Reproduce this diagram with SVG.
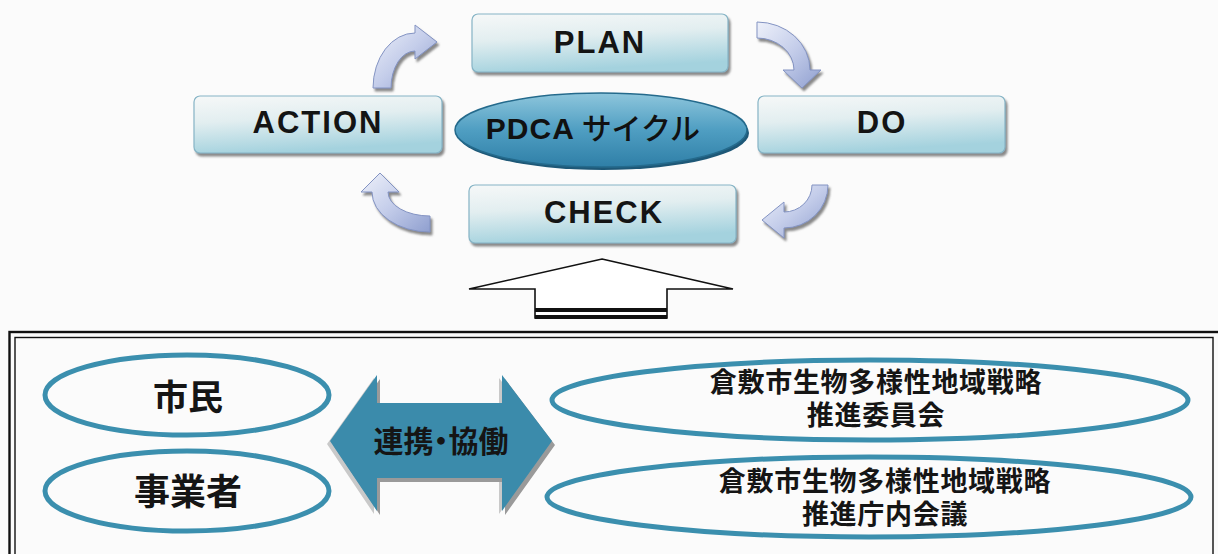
<svg xmlns="http://www.w3.org/2000/svg" width="1218" height="554" viewBox="0 0 1218 554">
<defs>
<linearGradient id="boxg" x1="0" y1="0" x2="0.25" y2="1">
<stop offset="0" stop-color="#f6f8f8"/>
<stop offset="0.45" stop-color="#e2eef0"/>
<stop offset="1" stop-color="#a4d2de"/>
</linearGradient>
<linearGradient id="ellg" x1="0" y1="0" x2="0" y2="1">
<stop offset="0" stop-color="#8ec6dc"/>
<stop offset="0.5" stop-color="#4f9ec2"/>
<stop offset="1" stop-color="#2f7fa7"/>
</linearGradient>
<linearGradient id="arrg" x1="0" y1="0" x2="1" y2="1">
<stop offset="0" stop-color="#eef1fa"/>
<stop offset="0.5" stop-color="#c4cdea"/>
<stop offset="1" stop-color="#8f9fcf"/>
</linearGradient>
<filter id="sh" x="-10%" y="-10%" width="130%" height="140%">
<feDropShadow dx="2" dy="3" stdDeviation="1.2" flood-color="#6d6d6d" flood-opacity="0.8"/>
</filter>
</defs>
<style>
.box{fill:url(#boxg);stroke:#86b4c6;stroke-width:1.2;filter:url(#sh)}
.lbl{font-family:"Liberation Sans",Arial,sans-serif;font-weight:bold;font-size:31px;fill:#141414;text-anchor:middle;letter-spacing:2px}
.carr{fill:url(#arrg);stroke:#8393c2;stroke-width:1;filter:url(#sh)}
.oval{fill:none;stroke:#3b8fae;stroke-width:5}
.jp{font-family:"Noto Sans CJK JP","Noto Sans CJK SC",sans-serif;fill:#151515;text-anchor:middle}
.jr{font-size:27px;font-weight:bold;letter-spacing:0.7px}
</style>
<rect width="1218" height="554" fill="#fbfbfb"/>

<g id="connectors">
<path class="carr" d="M 373 88 A 42 55 0 0 1 415 33 L 415 25 L 437 42 L 415 59 L 415 51 A 24 37 0 0 0 391 88 Z"/>
<path class="carr" d="M 757 22 A 53 48 0 0 1 810 70 L 821 70 L 802 88 L 783 70 L 794 70 A 37 32 0 0 0 757 38 Z"/>
<path class="carr" d="M 828 185 A 44 43 0 0 1 784 228 L 784 238 L 762 220 L 784 202 L 784 212 A 28 27 0 0 0 812 185 Z"/>
<path class="carr" d="M 430 232 A 58 40 0 0 1 372 192 L 361 192 L 380 173 L 399 192 L 388 192 A 42 24 0 0 0 430 216 Z"/>
<g id="upArrow">
<polygon points="602,259 733,289 667,289 667,318 535,318 535,289 469,289" fill="#ffffff" stroke="#111" stroke-width="1.6" stroke-linejoin="miter"/>
<rect x="535" y="308" width="132" height="4" fill="#111"/>
<rect x="535" y="315" width="132" height="4" fill="#111"/>
</g>
<g id="dualArrow">
<polygon points="330,441 377,375 377,403 502,403 502,375 552,441 502,511 502,478 377,478 377,511" fill="#c9c9c9" transform="translate(-3,3)"/>
<polygon points="330,441 377,375 377,403 502,403 502,375 552,441 502,511 502,478 377,478 377,511" fill="#9a9a9a" transform="translate(3,4)"/>
<polygon points="330,441 377,375 377,403 502,403 502,375 552,441 502,511 502,478 377,478 377,511" fill="#3b8bab"/>
<text class="jp" x="441" y="452" font-size="30" font-weight="bold" style="font-feature-settings:'palt'">連携・協働</text>
</g>
</g>

<g id="plan">
<rect class="box" x="472" y="14" width="256" height="58" rx="6"/>
<text class="lbl" x="600" y="53">PLAN</text>
</g>
<g id="action">
<rect class="box" x="194" y="96" width="248" height="57" rx="6"/>
<text class="lbl" x="318" y="133">ACTION</text>
</g>
<g id="do">
<rect class="box" x="758" y="96" width="247" height="57" rx="6"/>
<text class="lbl" x="882" y="133">DO</text>
</g>
<g id="check">
<rect class="box" x="469" y="185" width="267" height="58" rx="6"/>
<text class="lbl" x="604" y="223">CHECK</text>
</g>
<g id="pdca">
<ellipse cx="603" cy="133" rx="146" ry="37" fill="#1e5877"/>
<ellipse cx="601" cy="130" rx="146" ry="37" fill="url(#ellg)" stroke="#246a8c" stroke-width="1.5"/>
<text x="593" y="139" fill="#111" text-anchor="middle"><tspan font-family="'Liberation Sans',Arial,sans-serif" font-weight="bold" font-size="30" letter-spacing="1">PDCA</tspan><tspan font-family="'Noto Sans CJK JP',sans-serif" font-weight="500" font-size="30"> サイクル</tspan></text>
</g>

<g id="frame">
<rect x="9.5" y="332" width="1210" height="240" fill="none" stroke="#111" stroke-width="2.4"/>
<rect x="15" y="337.5" width="1198" height="230" fill="none" stroke="#111" stroke-width="1.4"/>
</g>

<g id="shimin">
<ellipse class="oval" cx="187" cy="395" rx="142" ry="40"/>
<text class="jp" x="188" y="410" font-size="35" font-weight="bold">市民</text>
</g>
<g id="jigyosha">
<ellipse class="oval" cx="187" cy="491" rx="142" ry="40"/>
<text class="jp" x="188" y="505" font-size="36" font-weight="bold">事業者</text>
</g>
<g id="iinkai">
<ellipse class="oval" cx="870" cy="400" rx="318" ry="40"/>
<text class="jp jr" x="876" y="392">倉敷市生物多様性地域戦略</text>
<text class="jp jr" x="876" y="425">推進委員会</text>
</g>
<g id="chonai">
<ellipse class="oval" cx="869" cy="497" rx="322" ry="40"/>
<text class="jp jr" x="885" y="491">倉敷市生物多様性地域戦略</text>
<text class="jp jr" x="885" y="524">推進庁内会議</text>
</g>
</svg>
